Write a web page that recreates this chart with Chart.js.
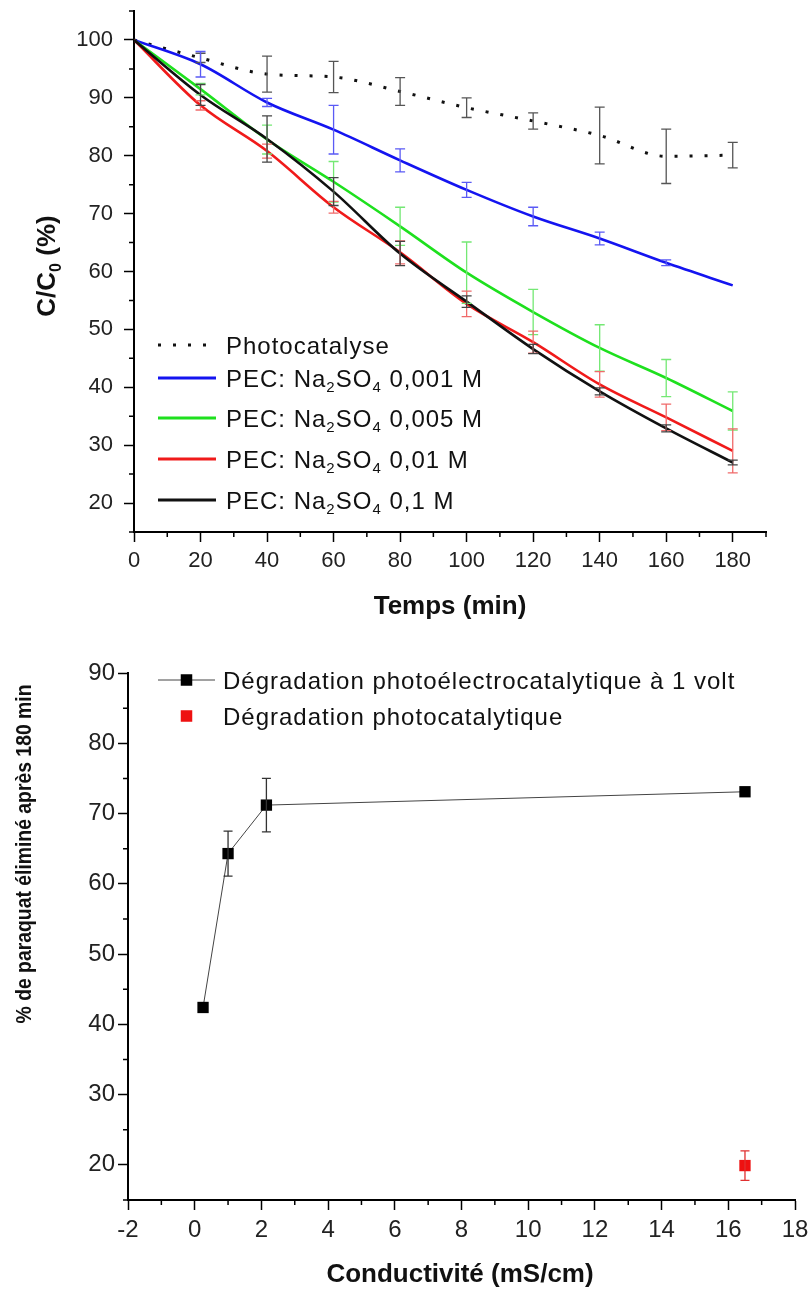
<!DOCTYPE html>
<html>
<head>
<meta charset="utf-8">
<script src="https://cdn.jsdelivr.net/npm/chart.js@4.4.1/dist/chart.umd.min.js"></script>
<style>
    html, body { margin: 0; padding: 0; background: #fff; }
    .box { position: absolute; left: 0; width: 811px; }
    #topBox { top: 0; height: 640px; }
    #bottomBox { top: 640px; height: 651px; }
</style>
</head>
<body>
<div class="box" id="topBox"><canvas id="kineticsChart"></canvas></div>
<div class="box" id="bottomBox"><canvas id="conductChart"></canvas></div>
<script>
// ---- data: top chart (C/C0 vs time)
const times = [0, 20, 40, 60, 80, 100, 120, 140, 160, 180];
const timeTickLabels = [0, 20, 40, 60, 80, 100, 120, 140, 160, 180];
const ratioTickLabels = [20, 30, 40, 50, 60, 70, 80, 90, 100];

const seriesNames = ['Photocatalyse', 'PEC: Na₂SO₄ 0,001 M', 'PEC: Na₂SO₄ 0,005 M', 'PEC: Na₂SO₄ 0,01 M', 'PEC: Na₂SO₄ 0,1 M'];

const photoValues = [100, 96.9, 94.1, 93.6, 91.1, 88.3, 86.0, 83.5, 79.9, 80.1];
const photoErrors = [0, 0.8, 3.1, 2.7, 2.4, 1.7, 1.4, 4.9, 4.7, 2.2];
const pec0001Values = [100, 95.8, 89.2, 84.5, 79.2, 74.1, 69.5, 65.7, 61.5, 57.6];
const pec0001Errors = [0, 2.2, 0.7, 4.2, 2.0, 1.3, 1.6, 1.1, 0.5, 0];
const pec0005Values = [100, 91.5, 82.8, 75.5, 67.8, 59.8, 53.0, 46.8, 41.6, 35.9];
const pec0005Errors = [0, 1.0, 2.5, 3.5, 3.3, 5.3, 3.9, 4.0, 3.2, 3.3];
const pec001Values = [100, 88.7, 80.8, 71.1, 63.3, 54.4, 47.8, 40.5, 34.8, 29.0];
const pec001Errors = [0, 0.8, 1.2, 1.0, 2.0, 2.2, 1.9, 2.2, 2.3, 3.8];
const pec01Values = [100, 90.5, 82.9, 73.8, 63.1, 54.8, 46.6, 39.3, 32.9, 27.0];
const pec01Errors = [0, 1.8, 4.0, 2.4, 2.1, 1.0, 0.8, 0.6, 0.6, 0.4];

// ---- data: bottom chart (% removed vs conductivity)
const degradNames = ['Dégradation photoélectrocatalytique à 1 volt', 'Dégradation photocatalytique'];
const pecConductivity = [0.25, 1.0, 2.15, 16.5];
const pecRemoved = [42.4, 64.3, 71.2, 73.1];
const pecRemovedErrors = [0, 3.2, 3.8, 0];
const photoConductivity = [16.5];
const photoRemoved = [19.9];
const photoRemovedErrors = [2.1];
const conductTickLabels = [-2, 0, 2, 4, 6, 8, 10, 12, 14, 16, 18];
const removedTickLabels = [20, 30, 40, 50, 60, 70, 80, 90];

// ---- helpers
const FONT = '"Liberation Sans", Arial, Helvetica, sans-serif';
const SUBS = '₀₁₂₃₄₅₆₇₈₉';

const isMajor = function(v, step) {
    const r = v / step;
    return Math.abs(r - Math.round(r)) < 1e-6;
}

const toPoints = function(xs, ys) {
    return xs.map((x, i) => ({ x: x, y: ys[i] }));
}

const splitRuns = function(text) {
    const runs = [];
    for (const ch of text) {
        const idx = SUBS.indexOf(ch);
        const sub = idx >= 0;
        const c = sub ? String(idx) : ch;
        const last = runs[runs.length - 1];
        if (last && last.sub === sub) last.text += c;
        else runs.push({ text: c, sub: sub });
    }
    return runs;
}

// draws text, turning unicode subscript digits into real smaller lowered digits
const drawRich = function(ctx, text, x, y, size, weight, align) {
    const runs = splitRuns(text);
    let w = 0;
    runs.forEach((r) => {
        ctx.font = `${weight} ${r.sub ? Math.round(size * 0.62) : size}px ${FONT}`;
        r.w = ctx.measureText(r.text).width;
        w += r.w;
    });
    let cx = align === 'center' ? x - w / 2 : x;
    ctx.textAlign = 'left';
    ctx.textBaseline = 'middle';
    runs.forEach((r) => {
        ctx.font = `${weight} ${r.sub ? Math.round(size * 0.62) : size}px ${FONT}`;
        ctx.fillText(r.text, cx, r.sub ? y + size * 0.33 : y);
        cx += r.w;
    });
}

// ---- plugins
const errorBarPlugin = {
    id: 'errorBars',
    afterDatasetsDraw(chart, args, opts) {
        const ctx = chart.ctx;
        const yScale = chart.scales.y;
        chart.data.datasets.forEach((ds, i) => {
            if (!ds.errorBars) return;
            const meta = chart.getDatasetMeta(i);
            ctx.save();
            ctx.strokeStyle = ds.errorColor;
            ctx.lineWidth = 1.3;
            ds.data.forEach((pt, j) => {
                const e = ds.errorBars[j];
                if (!e) return;
                const px = meta.data[j].x;
                const top = yScale.getPixelForValue(pt.y + e);
                const bot = yScale.getPixelForValue(pt.y - e);
                const cap = opts.cap || 5;
                ctx.beginPath();
                ctx.moveTo(px, top); ctx.lineTo(px, bot);
                ctx.moveTo(px - cap, top); ctx.lineTo(px + cap, top);
                ctx.moveTo(px - cap, bot); ctx.lineTo(px + cap, bot);
                ctx.stroke();
            });
            ctx.restore();
        });
    }
}

const minorTickPlugin = {
    id: 'minorTicks',
    afterDraw(chart, args, opts) {
        const { ctx, chartArea } = chart;
        const xs = chart.scales.x, ys = chart.scales.y;
        ctx.save();
        ctx.strokeStyle = '#000';
        ctx.lineWidth = 1.5;
        ctx.beginPath();
        xs.ticks.forEach((t) => {
            if (isMajor(t.value, opts.xStep)) return;
            const px = xs.getPixelForValue(t.value);
            ctx.moveTo(px, chartArea.bottom); ctx.lineTo(px, chartArea.bottom + 5);
        });
        ys.ticks.forEach((t) => {
            if (isMajor(t.value, opts.yStep)) return;
            const py = ys.getPixelForValue(t.value);
            ctx.moveTo(chartArea.left, py); ctx.lineTo(chartArea.left - 5, py);
        });
        ctx.stroke();
        ctx.restore();
    }
}

// legend + axis titles drawn at fixed spots (Origin style legend inside the plot)
const decorPlugin = {
    id: 'decor',
    afterDraw(chart, args, opts) {
        const ctx = chart.ctx;
        ctx.save();
        ctx.fillStyle = '#111';
        // axis titles
        drawRich(ctx, opts.xTitle, opts.xTitlePos[0], opts.xTitlePos[1], 26, 'bold', 'center');
        ctx.save();
        ctx.translate(opts.yTitlePos[0], opts.yTitlePos[1]);
        ctx.rotate(-Math.PI / 2);
        ctx.scale(opts.yTitleStretch || 1, 1);
        drawRich(ctx, opts.yTitle, 0, 0, opts.yTitleSize, 'bold', 'center');
        ctx.restore();
        // legend
        const lg = opts.legend;
        lg.rows.forEach((rowY, i) => {
            const ds = chart.data.datasets[lg.order[i]];
            ctx.save();
            if (ds.showLine !== false) {
                ctx.strokeStyle = lg.lineColor ? lg.lineColor : ds.borderColor;
                ctx.lineWidth = lg.lineWidth || ds.borderWidth;
                ctx.setLineDash(ds.borderDash || []);
                ctx.beginPath();
                ctx.moveTo(lg.x1, rowY); ctx.lineTo(lg.x2, rowY);
                ctx.stroke();
            }
            if (lg.marker) {
                ctx.fillStyle = ds.pointBackgroundColor;
                const s = lg.marker;
                ctx.fillRect((lg.x1 + lg.x2) / 2 - s / 2, rowY - s / 2, s, s);
            }
            ctx.restore();
            ctx.fillStyle = '#111';
            ctx.letterSpacing = '1px';
            drawRich(ctx, ds.label, lg.textX, rowY + 2, 24, 'normal', 'left');
            ctx.letterSpacing = '0px';
        });
        ctx.restore();
    }
}

// fixed axis box size, no extra label overhang padding
const fixSize = function(dim, val) {
    return (s) => {
        s[dim] = val;
        s.paddingTop = 0; s.paddingBottom = 0;
        s.paddingLeft = 0; s.paddingRight = 0;
    };
}

const axisBase = function(step, labels, size, pad) {
    return {
        type: 'linear',
        grid: {
            drawOnChartArea: false,
            drawTicks: true,
            tickLength: 10,
            tickWidth: 1.5,
            tickColor: (c) => (c.tick && isMajor(c.tick.value, step)) ? '#000' : 'rgba(0,0,0,0)'
        },
        border: { display: true, color: '#000', width: 2 },
        ticks: {
            autoSkip: false,
            maxRotation: 0,
            padding: pad,
            color: '#222',
            font: { family: FONT, size: size },
            callback: (v) => labels.includes(v) ? String(v) : ''
        }
    };
}

// ---- top chart
const topX = axisBase(20, timeTickLabels, 22, 6);
topX.min = 0; topX.max = 190; topX.ticks.stepSize = 10;
topX.afterFit = fixSize('height', 60);
const topY = axisBase(10, ratioTickLabels, 22, 11);
topY.min = 15; topY.max = 105; topY.ticks.stepSize = 5;
topY.afterFit = fixSize('width', 134);

const lineDs = function(label, values, errors, color, errColor, order) {
    return {
        label: label,
        data: toPoints(times, values),
        errorBars: errors,
        errorColor: errColor,
        borderColor: color,
        borderWidth: 2.6,
        pointRadius: 0,
        cubicInterpolationMode: 'monotone',
        fill: false,
        order: order
    };
}

const photoDs = lineDs(seriesNames[0], photoValues, photoErrors, '#111', '#555', 5);
photoDs.borderDash = [3, 12];
photoDs.borderWidth = 3;

new Chart('kineticsChart', {
    type: 'line',
    data: {
        datasets: [
            photoDs,
            lineDs(seriesNames[1], pec0001Values, pec0001Errors, '#1414f0', '#5a5af5', 4),
            lineDs(seriesNames[2], pec0005Values, pec0005Errors, '#1ee01e', '#74e874', 3),
            lineDs(seriesNames[3], pec001Values, pec001Errors, '#f01a1a', '#f06a6a', 2),
            lineDs(seriesNames[4], pec01Values, pec01Errors, '#111111', '#444444', 1)
        ]
    },
    options: {
        responsive: true,
        maintainAspectRatio: false,
        animation: false,
        devicePixelRatio: 1,
        layout: { padding: { left: 0, right: 45, top: 11, bottom: 48 } },
        scales: { x: topX, y: topY },
        plugins: {
            legend: { display: false },
            tooltip: { enabled: false },
            errorBars: { cap: 5 },
            minorTicks: { xStep: 20, yStep: 10 },
            decor: {
                xTitle: 'Temps (min)', xTitlePos: [450, 607],
                yTitle: 'C/C₀ (%)', yTitlePos: [48, 266], yTitleSize: 26,
                legend: { rows: [345, 378, 418, 459, 500], order: [0, 1, 2, 3, 4], x1: 158, x2: 216, textX: 226, lineWidth: 3 }
            }
        }
    },
    plugins: [errorBarPlugin, minorTickPlugin, decorPlugin]
});

// ---- bottom chart
const botX = axisBase(2, conductTickLabels, 24, 6);
botX.min = -2; botX.max = 18; botX.ticks.stepSize = 1;
botX.afterFit = fixSize('height', 60);
const botY = axisBase(10, removedTickLabels, 24, 3);
botY.min = 15; botY.max = 90; botY.ticks.stepSize = 5;
botY.afterFit = fixSize('width', 128);

new Chart('conductChart', {
    type: 'line',
    data: {
        datasets: [
            {
                label: degradNames[0],
                data: toPoints(pecConductivity, pecRemoved),
                errorBars: pecRemovedErrors,
                errorColor: '#333',
                borderColor: '#444',
                borderWidth: 1,
                pointStyle: 'rect',
                pointRadius: 8,
                pointBorderWidth: 0,
                pointBackgroundColor: '#000',
                tension: 0
            },
            {
                label: degradNames[1],
                data: toPoints(photoConductivity, photoRemoved),
                errorBars: photoRemovedErrors,
                errorColor: '#e03030',
                showLine: false,
                pointStyle: 'rect',
                pointRadius: 8,
                pointBorderWidth: 0,
                pointBackgroundColor: '#ee1111'
            }
        ]
    },
    options: {
        responsive: true,
        maintainAspectRatio: false,
        animation: false,
        devicePixelRatio: 1,
        layout: { padding: { left: 0, right: 16, top: 33, bottom: 31 } },
        scales: { x: botX, y: botY },
        plugins: {
            legend: { display: false },
            tooltip: { enabled: false },
            errorBars: { cap: 4.5 },
            minorTicks: { xStep: 2, yStep: 10 },
            decor: {
                xTitle: 'Conductivité (mS/cm)', xTitlePos: [460, 635],
                yTitle: '% de paraquat éliminé après 180 min', yTitlePos: [25, 214], yTitleSize: 22, yTitleStretch: 0.88,
                legend: { rows: [40, 76], order: [0, 1], x1: 158, x2: 215, textX: 223, lineColor: '#444', lineWidth: 1, marker: 11.5 }
            }
        }
    },
    plugins: [errorBarPlugin, minorTickPlugin, decorPlugin]
});
</script>
</body>
</html>
